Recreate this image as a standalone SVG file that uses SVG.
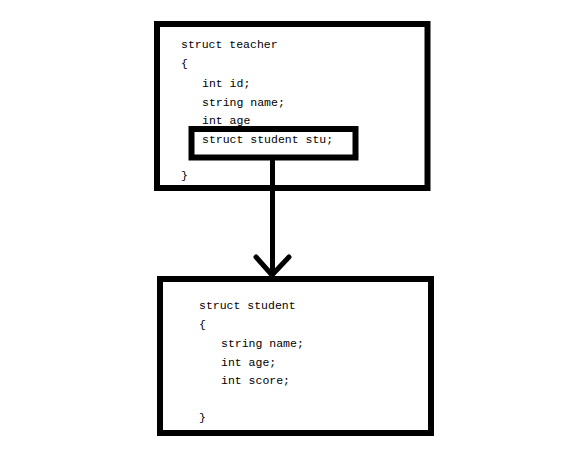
<svg xmlns="http://www.w3.org/2000/svg" width="567" height="468" viewBox="0 0 567 468">
<style>
.box{fill:none;stroke:#000;stroke-width:6}
.t{font-family:"Liberation Mono","DejaVu Sans Mono",monospace;font-size:11.5px;fill:#000}
.conn{fill:none;stroke:#000;stroke-width:5}
</style>
<rect width="567" height="468" fill="#fff"/>
<g id="teacher">
<rect class="box" x="157" y="24" width="270.5" height="164"/>
<text class="t" x="181" y="48">struct teacher</text>
<text class="t" x="181" y="67">{</text>
<text class="t" x="202" y="87">int id;</text>
<text class="t" x="202" y="106">string name;</text>
<text class="t" x="202" y="124">int age</text>
<text class="t" x="181" y="179">}</text>
</g>
<g id="stu-field">
<rect class="box" x="191.5" y="129" width="164" height="28.5"/>
<text class="t" x="202" y="143">struct student stu;</text>
</g>
<g id="student">
<rect class="box" x="160" y="279" width="271" height="154"/>
<text class="t" x="199" y="309">struct student</text>
<text class="t" x="199" y="328">{</text>
<text class="t" x="221" y="347">string name;</text>
<text class="t" x="221" y="366">int age;</text>
<text class="t" x="221" y="384">int score;</text>
<text class="t" x="199" y="421">}</text>
</g>
<g id="connectors">
<path class="conn" d="M272.5 160 V274"/>
<path class="conn" d="M256 257 L272 275 L289 257" stroke-linecap="round" stroke-linejoin="round"/>
</g>
</svg>
